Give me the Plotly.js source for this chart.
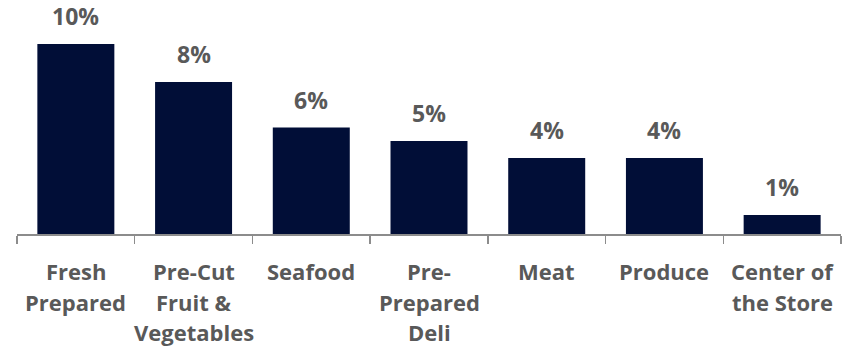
<!DOCTYPE html>
<html>
<head>
<meta charset="utf-8">
<script src="https://cdn.plot.ly/plotly-3.0.1.min.js"></script>
<style>html,body{margin:0;padding:0;background:#fff;}#chart{width:850px;height:348px;}</style>
</head>
<body>
<div id="chart"></div>
<script>
const categories = ["Fresh<br>Prepared", "Pre-Cut<br>Fruit &<br>Vegetables", "Seafood", "Pre-<br>Prepared<br>Deli", "Meat", "Produce", "Center of<br>the Store"];
const values = [10.0, 8.0, 5.6, 4.9, 4.0, 4.0, 1.0];
const valueLabels = ["10%", "8%", "6%", "5%", "4%", "4%", "1%"];

const keys = categories.map((c, i) => "c" + i);
const barColor = "#010e37";
const textColor = "#595959";
const font = "'Open Sans', 'DejaVu Sans', sans-serif";

const annotations = [];
values.forEach((v, i) => {
  annotations.push({
    x: keys[i], y: v, xref: "x", yref: "y",
    text: "<b>" + valueLabels[i] + "</b>", showarrow: false,
    yanchor: "bottom", yshift: 10,
    font: {family: font, size: 23, color: textColor}
  });
});
categories.forEach((c, i) => {
  c.split("<br>").forEach((line, j) => {
    annotations.push({
      x: keys[i], y: 0, xref: "x", yref: "y",
      text: "<b>" + line + "</b>", showarrow: false,
      yanchor: "top", yshift: -21 - j * 30.5, borderpad: 0,
      font: {family: font, size: 22, color: textColor}
    });
  });
});

Plotly.newPlot("chart", [{
  type: "bar",
  x: keys,
  y: values,
  marker: {color: barColor, line: {width: 0}},
  hoverinfo: "skip"
}], {
  width: 850, height: 348,
  margin: {l: 17, r: 9, t: 0, b: 114},
  paper_bgcolor: "#fff", plot_bgcolor: "#fff",
  bargap: 0.346,
  showlegend: false,
  xaxis: {
    type: "category", range: [-0.5, 6.5],
    showticklabels: false, showgrid: false, zeroline: false,
    showline: true, linecolor: "#8c8c8c", linewidth: 1.5,
    ticks: "outside", tickson: "boundaries", ticklen: 8, tickwidth: 1.5, tickcolor: "#8c8c8c"
  },
  yaxis: {
    range: [0, 234 / 19], visible: false, showgrid: false, zeroline: false, fixedrange: true
  },
  annotations: annotations
}, {displayModeBar: false, staticPlot: true});
</script>
</body>
</html>
